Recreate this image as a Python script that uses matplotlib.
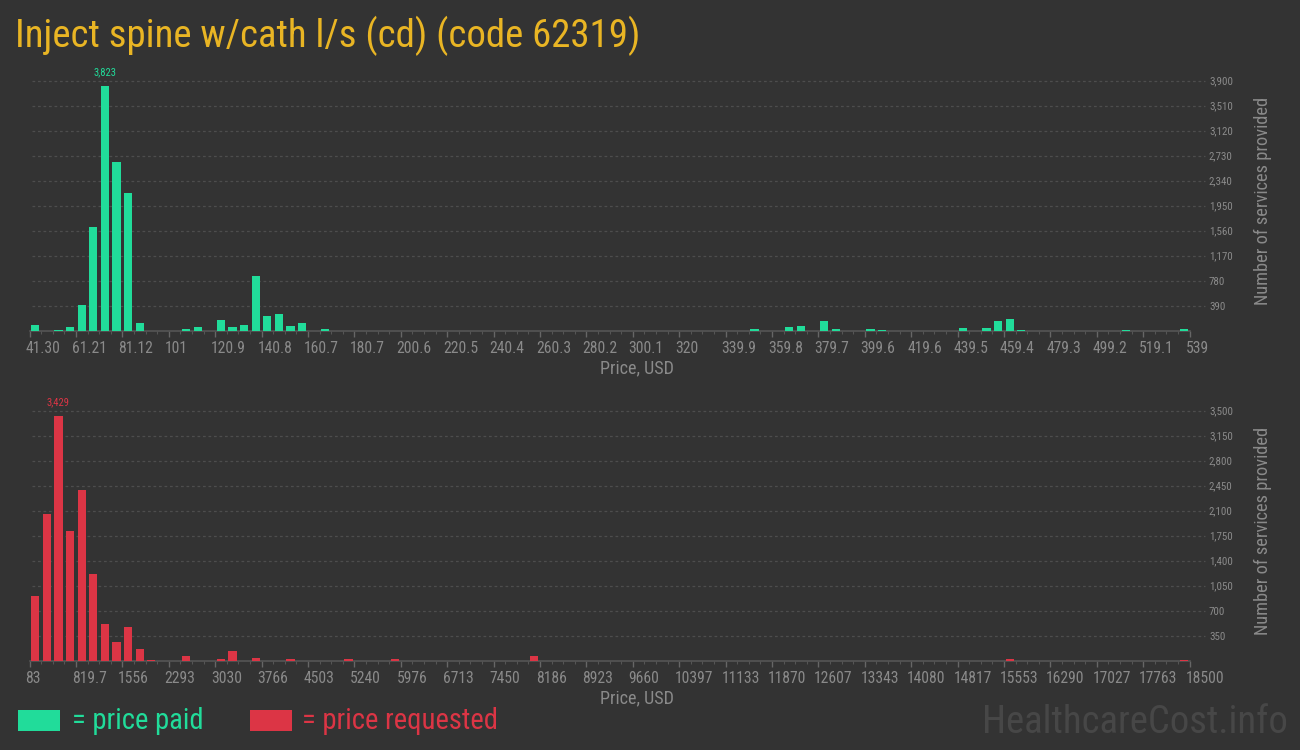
import matplotlib
matplotlib.use("Agg")
import matplotlib.pyplot as plt
from matplotlib import font_manager as fm
from matplotlib.patches import Rectangle
from matplotlib.transforms import ScaledTranslation, blended_transform_factory
import numpy as np

# ---------------- data ----------------
title = "Inject spine w/cath l/s (cd) (code 62319)"

paid_range = (41.30, 539.0)
paid_ticklabels = ["41.30", "61.21", "81.12", "101", "120.9", "140.8", "160.7", "180.7",
                   "200.6", "220.5", "240.4", "260.3", "280.2", "300.1", "320", "339.9",
                   "359.8", "379.7", "399.6", "419.6", "439.5", "459.4", "479.3", "499.2",
                   "519.1", "539"]
paid_bins = [0, 2, 3, 4, 5, 6, 7, 8, 9, 13, 14, 16, 17, 18, 19, 20, 21, 22, 23, 25,
             62, 65, 66, 68, 69, 72, 73, 80, 82, 83, 84, 85, 94, 99]
paid_counts = [88, 10, 57, 400, 1617, 3823, 2631, 2148, 120, 26, 57, 166, 57, 88, 853,
               229, 260, 73, 120, 26, 26, 57, 73, 151, 26, 26, 10, 42, 42, 151, 182,
               10, 10, 26]
paid_yticks = [390, 780, 1170, 1560, 1950, 2340, 2730, 3120, 3510, 3900]

req_range = (83.0, 18500.0)
req_ticklabels = ["83", "819.7", "1556", "2293", "3030", "3766", "4503", "5240", "5976",
                  "6713", "7450", "8186", "8923", "9660", "10397", "11133", "11870",
                  "12607", "13343", "14080", "14817", "15553", "16290", "17027", "17763",
                  "18500"]
req_bins = [0, 1, 2, 3, 4, 5, 6, 7, 8, 9, 10, 13, 16, 17, 19, 22, 27, 31, 43, 84, 99]
req_counts = [905, 2053, 3429, 1815, 2389, 1213, 513, 261, 471, 163, 10, 65, 23, 135,
              37, 23, 23, 23, 70, 23, 10]
req_yticks = [350, 700, 1050, 1400, 1750, 2100, 2450, 2800, 3150, 3500]

n_bins = 100

# ---------------- style ----------------
W, H, DPI = 1300, 750, 100
BG = "#333333"
GREEN = "#21dc9a"
RED = "#dc3545"
GOLD = "#e9b524"
GREY = "#8a8a8a"
GRID = "#4d4d4d"
AXIS = "#555555"
WATER = "#474747"

names = {f.name for f in fm.fontManager.ttflist}
COND = None
for cand in ["Roboto Condensed", "Liberation Sans Narrow", "Open Sans Condensed"]:
    if cand in names:
        COND = cand
        break
if COND is None:
    COND = "Roboto" if "Roboto" in names else "DejaVu Sans"
FAM = [COND, "DejaVu Sans"]
plt.rcParams["font.family"] = FAM

fig = plt.figure(figsize=(W / DPI, H / DPI), dpi=DPI, facecolor=BG)
renderer = fig.canvas.get_renderer()


def size_for(text, target_px, base=20, rotation=0):
    t = fig.text(0, 0, text, fontsize=base, rotation=rotation)
    bb = t.get_window_extent(renderer)
    t.remove()
    w = bb.height if rotation else bb.width
    return base * target_px / w


def px(x, y):
    return x / W, 1 - y / H


tick_fs = size_for("41.30", 35)
ytick_fs = size_for("3,900", 24)
val_fs = size_for("3,823", 23)
ylab_fs = size_for("Number of services provided", 208, rotation=90)
xlab_fs = size_for("Price, USD", 74)

ax_left, ax_right = 29.5, 1189.5


def make_panel(ytop_px, base_px, xr, labels, bins, counts, yticks, color):
    left, bottom = ax_left / W, 1 - base_px / H
    ax = fig.add_axes([left, bottom, (ax_right - ax_left) / W, (base_px - ytop_px) / H])
    ax.set_facecolor(BG)
    lo, hi = xr
    bw = (hi - lo) / n_bins
    centers = [lo + (b + 0.5) * bw for b in bins]
    ax.bar(centers, counts, width=bw * 0.72, color=color, zorder=3)
    ax.set_xlim(lo, hi)
    ax.set_ylim(0, yticks[-1])

    # grid lines (extend a little past the plot on the right)
    tr = blended_transform_factory(ax.transAxes, ax.transData)
    for v in yticks:
        ax.plot([0.002, 1.013], [v, v], transform=tr, color=GRID, lw=0.9,
                ls=(0, (2.2, 2.2)), clip_on=False, zorder=1)

    for s in ["top", "right", "left"]:
        ax.spines[s].set_visible(False)
    ax.spines["bottom"].set_color(AXIS)
    ax.spines["bottom"].set_linewidth(1.2)

    # x ticks
    step = (hi - lo) / (len(labels) - 1)
    major = [lo + k * step for k in range(len(labels))]
    ax.set_xticks(major)
    ax.set_xticklabels(labels)
    ax.set_xticks([lo + k * bw for k in range(n_bins + 1)], minor=True)
    ax.tick_params(axis="x", which="major", length=4, width=1, color="#666666",
                   labelsize=tick_fs, labelcolor=GREY, pad=3.5)
    ax.tick_params(axis="x", which="minor", length=2.5, width=0.8, color="#555555")
    off = ScaledTranslation(-4 / DPI, 0, fig.dpi_scale_trans)
    for lab in ax.get_xticklabels():
        lab.set_ha("left")
        lab.set_transform(lab.get_transform() + off)

    # y ticks on the right
    ax.yaxis.tick_right()
    ax.set_yticks(yticks)
    ax.set_yticklabels([f"{v:,}" for v in yticks])
    ax.tick_params(axis="y", length=0, labelsize=ytick_fs, labelcolor=GREY, pad=14)
    for lab in ax.get_yticklabels():
        lab.set_ha("left")

    ax.set_xlabel("Price, USD", fontsize=xlab_fs, color=GREY)
    ax.xaxis.set_label_coords((637 - ax_left) / (ax_right - ax_left), -38 / (base_px - ytop_px))
    ax.xaxis.label.set_va("center")

    ax.yaxis.set_label_position("right")
    ax.set_ylabel("Number of services provided", fontsize=ylab_fs, color=GREY)
    ax.yaxis.label.set_va("center")
    ax.yaxis.label.set_ha("center")
    ax.yaxis.set_label_coords((1263 - ax_left) / (ax_right - ax_left), 0.52)

    # max label
    i = int(np.argmax(counts))
    ax.annotate(f"{counts[i]:,}", (centers[i], counts[i]), xytext=(0, 10),
                textcoords="offset points", ha="center", va="center",
                fontsize=val_fs, color=color, annotation_clip=False)
    return ax


make_panel(80.7, 330.7, paid_range, paid_ticklabels, paid_bins, paid_counts, paid_yticks, GREEN)
make_panel(410.7, 660.7, req_range, req_ticklabels, req_bins, req_counts, req_yticks, RED)

# title
tfs = size_for(title, 625)
fig.text(*px(15, 47), title, fontsize=tfs, color=GOLD, ha="left", va="baseline")

# legend
leg_fs = size_for("= price paid", 131)
fig.add_artist(Rectangle(px(18, 731), 42 / W, 21 / H, transform=fig.transFigure,
                         facecolor=GREEN, edgecolor="none"))
fig.text(*px(72, 721), "= price paid", fontsize=leg_fs, color=GREEN, ha="left", va="center")
fig.add_artist(Rectangle(px(250, 731), 42 / W, 21 / H, transform=fig.transFigure,
                         facecolor=RED, edgecolor="none"))
fig.text(*px(302, 721), "= price requested", fontsize=leg_fs, color=RED, ha="left", va="center")

# watermark
wfs = size_for("HealthcareCost.info", 306)
fig.text(*px(1288, 733), "HealthcareCost.info", fontsize=wfs, color=WATER, ha="right",
         va="baseline")

fig.savefig("out.png", dpi=DPI, facecolor=BG)
